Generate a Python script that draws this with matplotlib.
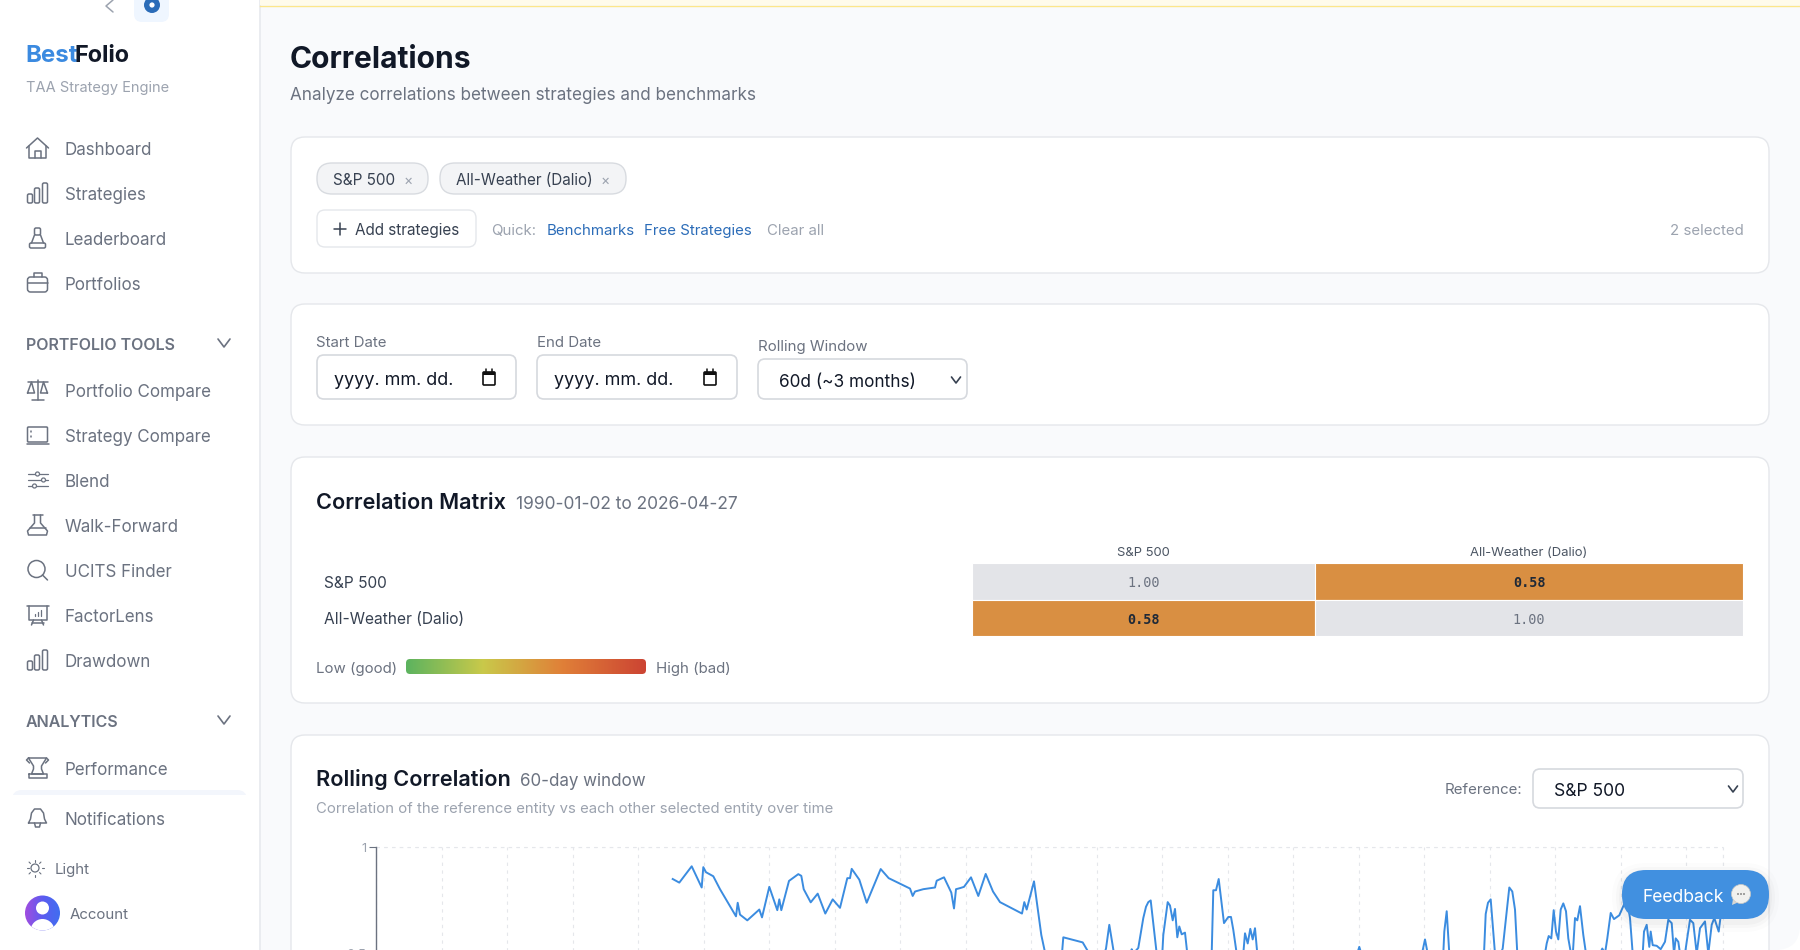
import numpy as np
import matplotlib
matplotlib.use("Agg")
import matplotlib.pyplot as plt
from matplotlib.patches import FancyBboxPatch, Rectangle, Circle, Polygon, PathPatch
from matplotlib.path import Path
from matplotlib.colors import LinearSegmentedColormap

plt.rcParams['font.family'] = ['Inter', 'DejaVu Sans']

# sidebar
nav_top = ["Dashboard", "Strategies", "Leaderboard", "Portfolios"]
nav_tools = ["Portfolio Compare", "Strategy Compare", "Blend", "Walk-Forward", "UCITS Finder", "FactorLens", "Drawdown"]

# correlation matrix
matrix_names = ["S&P 500", "All-Weather (Dalio)"]
matrix_values = [[1.00, 0.58], [0.58, 1.00]]

# rolling correlation, x is sample index along the chart
rolling_x = [296.7, 303.3, 315.7, 325.7, 327.3, 330, 337.3, 344, 360, 361.7, 364, 371.3, 383.3, 386, 393.3, 401.3,
             403.3, 405.3, 413, 422.3, 425.3, 427.7, 434.7, 441.7, 449.3, 456.7, 464, 471.3, 474, 475.7, 483.3, 490.7,
             504.7, 512.7, 534, 536.7, 539, 547.3, 559, 560.7, 568, 575.3, 578, 580, 584,
             588, 595, 602.3, 609.7, 617, 624, 646, 648.3, 650.7, 658, 665.3, 670, 675.7, 682.3, 685.7, 687.3, 706.7,
             713.3, 720.7, 727.3, 730, 733.3, 738, 745.7, 754, 755.7, 757.3, 762.3, 767.3, 770, 772.3, 774.7, 780.7,
             783.3, 786.3, 787.3, 791.7, 794, 796.7, 799, 801.3, 803.3, 805.7, 809, 811.3, 822.3, 835.7, 837.3, 840,
             842.7, 848, 852.3, 855, 857.3, 860.7, 864, 867.3, 869, 871.7, 874.3, 876.7, 879, 881.3,
             900, 930, 955, 975, 983.3, 985.3, 987.3, 989, 1010, 1040, 1046.7, 1049, 1051.7, 1060, 1067.3, 1068.3,
             1070.7, 1073.3, 1085, 1100, 1108, 1109.7, 1112, 1114.7, 1119, 1122, 1124.7, 1126.7, 1133.3, 1136.3, 1139,
             1141.3, 1155, 1169, 1170.7, 1172.7, 1175.3, 1177.7, 1180, 1182.3, 1184.7, 1187.3, 1190, 1192.3, 1195,
             1196.5, 1199, 1201.3, 1204, 1207.3, 1210, 1218, 1224, 1226.3, 1229, 1231.3, 1234.7, 1238, 1243.3, 1247.3,
             1250.7, 1254, 1256.7, 1264, 1266.7, 1268, 1270.7, 1273.3, 1274.7, 1276.7, 1280.7, 1284.7, 1289, 1292.3,
             1295.7, 1298, 1299.7, 1302.3, 1304, 1307.3, 1310.7, 1314, 1317.3, 1320.7, 1324, 1329, 1332.3, 1335.7,
             1338.3, 1342.7, 1345.7]
rolling_y = [.849, .832, .909, .809, .905, .881, .862, .801, .673, .737, .681, .654, .705, .668, .812, .702,
             .753, .702, .840, .872, .864, .801, .739, .780, .686, .753, .713, .853, .853, .897, .846, .737,
             .896, .853, .804, .769, .790, .801, .809, .841, .857, .785, .710, .801, .806,
             .812, .857, .769, .873, .790, .740, .686, .740, .705, .838, .585, .481, .36, .39, .481, .574, .550,
             .497, .425, .481, .521, .633, .497, .39, .489, .518, .497, .524, .665, .718, .740, .748, .497,
             .39, .497, .585, .740, .724, .654, .708, .574, .625, .588, .596, .497, .36, .497, .796, .796,
             .849, .641, .670, .670, .609, .497, .39, .497, .593, .545, .614, .564, .617, .497,
             .30, .38, .25, .40, .529, .497, .510, .497, .30, .40, .513, .564, .497, .38, .497, .601,
             .697, .497, .34, .42, .497, .684, .737, .753, .497, .40, .497, .521, .809, .790, .705,
             .497, .36, .497, .545, .580, .569, .702, .601, .564, .705, .734, .697, .569, .497,
             .47, .665, .654, .721, .585, .497, .40, .497, .521, .497, .569, .689, .660, .678, .721,
             .761, .665, .497, .38, .497, .601, .633, .529, .601, .537, .534, .518, .553, .657,
             .641, .497, .569, .553, .497, .44, .553, .657, .641, .497, .617, .649, .497, .633,
             .665, .601, .713]
rolling_ticks = [0, 65.5, 131, 196.5, 262, 327.5, 393, 458.5, 524, 589.5, 655, 720.5, 786, 851.5, 917, 982.5, 1048,
                 1113.5, 1179, 1244.5, 1310, 1347]

INK = "#111827"
GRAY = "#6b7280"
LIGHT = "#9ca3af"
BODY = "#374151"
BLUE = "#2b6cb8"
LINE = "#e5e7eb"


def fs(px):
    return px * 0.72


fig = plt.figure(figsize=(18, 9.5), dpi=100, facecolor="#f9fafc")
ax = fig.add_axes([0, 0, 1, 1], zorder=0)
ax.set_xlim(0, 1800)
ax.set_ylim(950, 0)
ax.axis("off")

top = fig.add_axes([0, 0, 1, 1], zorder=5)
top.set_xlim(0, 1800)
top.set_ylim(950, 0)
top.axis("off")
top.patch.set_alpha(0)


def txt(x, y, s, px=16, color=GRAY, ha="left", weight="normal", a=None):
    a = a or ax
    # y is the middle of the capitals, so all labels in a row share a baseline
    return a.text(x, y + px * 0.36 + 0.8, s, fontsize=fs(px), color=color, ha=ha, va="baseline", fontweight=weight)


def box(x0, y0, x1, y1, r, fc="white", ec=LINE, lw=1.0, a=None, z=1):
    a = a or ax
    p = FancyBboxPatch((x0 + r, y0 + r), x1 - x0 - 2 * r, y1 - y0 - 2 * r, boxstyle=f"round,pad={r},rounding_size={r}",
                       fc=fc, ec=ec, lw=lw, zorder=z)
    a.add_patch(p)
    return p


def stroke(xs, ys, c=GRAY, lw=1.1, a=None, z=3):
    (a or ax).plot(xs, ys, color=c, lw=lw, solid_capstyle="round", solid_joinstyle="round", zorder=z)


def rbox_line(x0, y0, x1, y1, r=1.5, c=GRAY, lw=1.1):
    box(x0, y0, x1, y1, r, fc="none", ec=c, lw=lw, z=3)


def chevron(cx, cy, w=6, h=4, c=GRAY, lw=1.2):
    stroke([cx - w, cx, cx + w], [cy - h, cy + h, cy - h], c=c, lw=lw)


# icons, drawn around a centre point
def icon_home(cx, cy):
    stroke([cx - 11, cx, cx + 11], [cy, cy - 10, cy])
    stroke([cx - 8.5, cx - 8.5, cx + 8.5, cx + 8.5], [cy - 2, cy + 10, cy + 10, cy - 2])
    stroke([cx - 3, cx - 3, cx + 3, cx + 3], [cy + 10, cy + 3, cy + 3, cy + 10])


def icon_bars(cx, cy):
    rbox_line(cx - 10, cy + 1, cx - 5, cy + 10)
    rbox_line(cx - 3, cy - 5, cx + 2, cy + 10)
    rbox_line(cx + 5, cy - 10, cx + 10, cy + 10)


def icon_bench(cx, cy):
    rbox_line(cx - 3, cy - 10, cx + 3, cy - 3)
    stroke([cx - 3, cx - 6, cx - 6], [cy - 3, cy + 5, cy + 5])
    stroke([cx + 3, cx + 6], [cy - 3, cy + 5])
    rbox_line(cx - 8, cy + 5, cx + 8, cy + 10)


def icon_case(cx, cy):
    rbox_line(cx - 10, cy - 6, cx + 10, cy + 9, r=3)
    stroke([cx - 10, cx + 10], [cy, cy])
    stroke([cx - 4, cx - 4, cx + 4, cx + 4], [cy - 6, cy - 10, cy - 10, cy - 6])


def icon_scale(cx, cy):
    stroke([cx, cx], [cy - 10, cy + 10])
    stroke([cx - 6, cx + 6], [cy + 10, cy + 10])
    stroke([cx - 10, cx + 10], [cy - 8, cy - 8])
    stroke([cx - 10, cx - 6, cx - 3, cx - 10], [cy + 3, cy - 8, cy + 3, cy + 3])
    stroke([cx + 10, cx + 6, cx + 3, cx + 10], [cy + 3, cy - 8, cy + 3, cy + 3])


def icon_screen(cx, cy):
    rbox_line(cx - 10, cy - 8, cx + 10, cy + 7, r=1)
    stroke([cx - 11, cx + 11], [cy + 9, cy + 9])
    stroke([cx - 7, cx - 7], [cy - 4, cy - 3])
    stroke([cx - 7, cx - 7], [cy + 1, cy + 2])


def icon_sliders(cx, cy):
    for dy, dx in [(-6, 0), (0, 6), (6, -3)]:
        stroke([cx - 10, cx + 10], [cy + dy, cy + dy], lw=0.9)
        ax.add_patch(Circle((cx + dx, cy + dy), 2, fc="white", ec=GRAY, lw=0.9, zorder=4))


def icon_flask(cx, cy):
    stroke([cx - 3, cx - 3, cx - 10, cx - 9, cx + 9, cx + 10, cx + 3, cx + 3], [cy - 10, cy - 2, cy + 6, cy + 10, cy + 10, cy + 6, cy - 2, cy - 10])
    stroke([cx - 5, cx + 5], [cy - 10, cy - 10])
    stroke([cx - 8, cx + 8], [cy + 3, cy + 3])


def icon_search(cx, cy):
    ax.add_patch(Circle((cx - 1, cy - 1), 8.5, fc="none", ec=GRAY, lw=1.1, zorder=3))
    stroke([cx + 5, cx + 10], [cy + 5, cy + 10])


def icon_board(cx, cy):
    stroke([cx - 11, cx + 11], [cy - 9, cy - 9])
    stroke([cx - 9, cx - 9, cx + 9, cx + 9], [cy - 9, cy + 5, cy + 5, cy - 9])
    stroke([cx - 4, cx - 6], [cy + 5, cy + 10])
    stroke([cx + 4, cx + 6], [cy + 5, cy + 10])
    stroke([cx - 6, cx + 6], [cy + 8, cy + 8])
    for dx, h in [(-3, 2), (0, 4), (3, 6)]:
        stroke([cx + dx, cx + dx], [cy + 1, cy + 1 - h], lw=0.9)


def icon_trophy(cx, cy):
    stroke([cx - 9, cx + 9, cx + 4, cx + 4, cx + 6, cx - 6, cx - 4, cx - 4, cx - 9], [cy - 10, cy - 10, cy - 2, cy + 1, cy + 6, cy + 6, cy + 1, cy - 2, cy - 10])
    stroke([cx - 9, cx + 9, cx + 9, cx - 9, cx - 9], [cy + 6, cy + 6, cy + 10, cy + 10, cy + 6])
    stroke([cx - 9, cx - 11, cx - 8], [cy - 10, cy - 8, cy - 5])
    stroke([cx + 9, cx + 11, cx + 8], [cy - 10, cy - 8, cy - 5])


def icon_bell(cx, cy):
    stroke([cx - 9, cx - 7, cx - 6, cx - 3, cx + 3, cx + 6, cx + 7, cx + 9, cx - 9], [cy + 5, cy + 1, cy - 5, cy - 9, cy - 9, cy - 5, cy + 1, cy + 5, cy + 5])
    stroke([cx - 3, cx - 2, cx + 2, cx + 3], [cy + 5, cy + 9, cy + 9, cy + 5])


# sidebar
ax.add_patch(Rectangle((0, 0), 259, 950, fc="white", ec="none", zorder=0.5))
ax.plot([259.5, 259.5], [0, 950], color="#e8eaee", lw=1.2, zorder=1)
stroke([113, 106, 113], [0, 6, 12], c=LIGHT, lw=1.1)
box(134, -10, 169, 22, 8, fc="#eff6ff", ec="none")
ax.add_patch(Circle((152, 5), 8, fc=BLUE, ec="none", zorder=3))
ax.add_patch(Circle((152, 5), 2.6, fc="white", ec="none", zorder=4))

txt(25, 52.5, "Best", px=24, color="#3b8ae0", weight="bold")
txt(75, 52.5, "Folio", px=23.5, color=INK, weight="bold")
txt(26, 85.5, "TAA Strategy Engine", px=14.6, color=LIGHT)

top_y = [148, 193, 238, 283]
for y, name, ic in zip(top_y, nav_top, [icon_home, icon_bars, icon_bench, icon_case]):
    ic(37.5, y)
    txt(65, y, name, px=17)

txt(25.5, 343, "PORTFOLIO TOOLS", px=16, color=GRAY, weight="semibold")
chevron(224, 343)
tool_y = [390, 435, 480, 525, 570, 615, 660]
for y, name, ic in zip(tool_y, nav_tools, [icon_scale, icon_screen, icon_sliders, icon_flask, icon_search, icon_board, icon_bars]):
    ic(37.5, y)
    txt(65, y, name, px=17)

txt(25.5, 720.5, "ANALYTICS", px=16, color=GRAY, weight="semibold")
chevron(224, 720)
icon_trophy(37.5, 768)
txt(65, 768, "Performance", px=17)
box(12, 790, 247, 815, 10, fc="#f3f6fc", ec="none")
ax.add_patch(Rectangle((0, 795), 259, 60, fc="white", ec="none", zorder=1.5))
icon_bell(37.5, 818)
txt(65, 818, "Notifications", px=17)

# sun
ax.add_patch(Circle((35, 868), 4, fc="none", ec=GRAY, lw=0.9, zorder=3))
for dx, dy in [(1, 0), (0, 1), (-1, 0), (0, -1), (.7, .7), (-.7, .7), (.7, -.7), (-.7, -.7)]:
    stroke([35 + 6.5 * dx, 35 + 8.5 * dx], [868 + 6.5 * dy, 868 + 8.5 * dy], lw=0.8)
txt(55, 868, "Light", px=15, color=GRAY)

# avatar
grad = LinearSegmentedColormap.from_list("av", ["#a04de0", "#5b5cf0", "#3f6ff0"])
im = ax.imshow(np.linspace(0, 1, 64)[None, :], extent=(24.5, 60.5, 931, 895), cmap=grad, zorder=3, aspect="auto")
clip = Circle((42.5, 913), 17.5, transform=ax.transData)
im.set_clip_path(clip)
ax.set_xlim(0, 1800)
ax.set_ylim(950, 0)
ax.add_patch(Circle((42.5, 908), 6.5, fc="white", ec="none", zorder=4))
body = ax.add_patch(Circle((42.5, 931), 12, fc="white", ec="none", zorder=4))
body.set_clip_path(clip)
txt(70, 913, "Account", px=15, color=GRAY)

# top strip and heading
ax.add_patch(Rectangle((260, 0), 1540, 5, fc="#fffbeb", ec="none", zorder=1))
ax.plot([260, 1800], [5.5, 5.5], color="#fde68a", lw=1.0, zorder=1)
txt(290, 56.5, "Correlations", px=30, color=INK, weight="bold")
txt(290, 93.5, "Analyze correlations between strategies and benchmarks", px=17.1, color=GRAY)

# selection card
box(291, 137, 1769, 273, 14)
box(317, 163, 428, 194, 15, fc="#f3f4f6", ec="#d8dbe0")
txt(333, 178.5, "S&P 500", px=15.3, color=BODY)
txt(408, 178.5, "×", px=14, color=LIGHT, ha="center")
box(440, 163, 626, 194, 15, fc="#f3f4f6", ec="#d8dbe0")
txt(456, 178.5, "All-Weather (Dalio)", px=15.2, color=BODY)
txt(605, 178.5, "×", px=14, color=LIGHT, ha="center")
box(317, 210, 476, 247, 8)
stroke([334, 346], [229, 229], c=BODY, lw=1.1)
stroke([340, 340], [223, 235], c=BODY, lw=1.1)
txt(355, 228.5, "Add strategies", px=15.3, color=BODY)
txt(491, 228.5, "Quick:", px=15, color=LIGHT)
txt(547, 228.5, "Benchmarks", px=15, color=BLUE)
txt(644, 228.5, "Free Strategies", px=15, color=BLUE)
txt(767, 228.5, "Clear all", px=15, color=LIGHT)
txt(1744, 228.5, "2 selected", px=15, color=LIGHT, ha="right")

# date card
box(291, 304, 1769, 425, 14)
txt(316, 340.5, "Start Date", px=15, color=GRAY)
txt(537, 340.5, "End Date", px=15, color=GRAY)
txt(758, 344.5, "Rolling Window", px=15, color=GRAY)
for x0, x1 in [(317, 516), (537, 737)]:
    box(x0, 355, x1, 399, 7, ec="#d6d9de", lw=1.2)
    txt(x0 + 17, 377.5, "yyyy. mm. dd.", px=18, color=INK)
    cx = x1 - 27
    box(cx - 6, 372, cx + 6, 385, 1, fc="white", ec="#111", lw=1.2, z=3)
    ax.add_patch(Rectangle((cx - 6, 372), 12, 3, fc="#111", ec="none", zorder=4))
    stroke([cx - 3, cx - 3], [369, 372], c="#111")
    stroke([cx + 3, cx + 3], [369, 372], c="#111")
box(758, 359, 967, 399, 7, ec="#d6d9de", lw=1.2)
txt(779, 380, "60d (~3 months)", px=17.2, color=INK)
chevron(956, 380, w=4.5, h=3, c=BODY, lw=1.2)

# correlation matrix card
box(291, 457, 1769, 703, 14)
txt(316, 500, "Correlation Matrix", px=21.7, color=INK, weight="semibold")
txt(516, 502, "1990-01-02 to 2026-04-27", px=17.4, color=GRAY)

col_edges = [972, 1315, 1743]
row_edges = [563, 600, 636]
for i, name in enumerate(matrix_names):
    txt((col_edges[i] + col_edges[i + 1]) / 2, 550.5, name, px=13, color="#4b5563", ha="center")
    txt(324, (row_edges[i] + row_edges[i + 1]) / 2, name, px=15.5, color=BODY)
    for j in range(len(matrix_names)):
        v = matrix_values[i][j]
        fc = "#e3e4e8" if v == 1 else "#d98f42"
        ax.add_patch(Rectangle((col_edges[j], row_edges[i]), col_edges[j + 1] - col_edges[j], row_edges[i + 1] - row_edges[i],
                               fc=fc, ec="white", lw=0.8, zorder=2))
        ax.text((col_edges[j] + col_edges[j + 1]) / 2, (row_edges[i] + row_edges[i + 1]) / 2, f"{v:.2f}",
                fontsize=fs(13.5), family="DejaVu Sans Mono", color=GRAY if v == 1 else "#1f2937",
                fontweight="normal" if v == 1 else "bold", ha="center", va="center_baseline", zorder=3)

txt(316, 667, "Low (good)", px=15, color=GRAY)
scale = LinearSegmentedColormap.from_list("lh", [(0, "#5cb35f"), (.32, "#c9c94a"), (.65, "#e08038"), (1, "#cc4433")])
bar_im = ax.imshow(np.linspace(0, 1, 256)[None, :], extent=(406, 646, 674, 659), cmap=scale, aspect="auto", zorder=3)
bar_clip = FancyBboxPatch((410, 663), 232, 7, boxstyle="round,pad=4,rounding_size=4", transform=ax.transData)
bar_im.set_clip_path(bar_clip)
ax.set_xlim(0, 1800)
ax.set_ylim(950, 0)
txt(656, 667, "High (bad)", px=15, color=GRAY)

# rolling correlation card
box(291, 735, 1769, 1000, 14)
txt(316, 777, "Rolling Correlation", px=21.7, color=INK, weight="semibold")
txt(520, 779, "60-day window", px=17, color=GRAY)
txt(316, 807, "Correlation of the reference entity vs each other selected entity over time", px=14.9, color=LIGHT)
txt(1522, 788, "Reference:", px=15, color=GRAY, ha="right")
box(1533, 769, 1743, 808, 7, ec="#d6d9de", lw=1.2)
txt(1554, 789, "S&P 500", px=17.5, color=INK)
chevron(1733, 789, w=4.5, h=3, c=BODY, lw=1.2)

# chart, its bottom edge runs just past the screenshot
chart = fig.add_axes([376 / 1800, -3 / 950, (1723 - 376) / 1800, 106 / 950], zorder=1)
chart.patch.set_alpha(0)
chart.plot(rolling_x, rolling_y, color="#3b8ce0", lw=1.4, solid_joinstyle="round", zorder=3)
chart.set_xlim(0, 1347)
chart.set_ylim(0.5, 1)
chart.set_xticks(rolling_ticks)
chart.set_yticks([0.5, 1])
chart.set_yticklabels(["0.5", "1"])
chart.grid(True, color="#e5e7eb", lw=0.8, linestyle=(0, (3, 4)))
chart.tick_params(axis="x", length=0, labelbottom=False)
chart.tick_params(axis="y", length=5, width=0.8, color=GRAY, labelcolor=LIGHT, labelsize=fs(13), pad=2)
chart.spines["left"].set_color(GRAY)
chart.spines["left"].set_linewidth(1.0)
for s in ["top", "right", "bottom"]:
    chart.spines[s].set_visible(False)
chart.plot([0, 1347], [1, 1], color="#e5e7eb", lw=0.8, linestyle=(0, (3, 4)), zorder=1, clip_on=False)
chart.plot([1347, 1347], [0.5, 1], color="#e5e7eb", lw=0.8, linestyle=(0, (3, 4)), zorder=1, clip_on=False)

# feedback button
for g, al in [(10, .012), (6, .018), (3, .025)]:
    box(1622 - g, 870 - g + 3, 1769 + g, 919 + g + 3, 24 + g, fc="#000000", ec="none", a=top, z=1).set_alpha(al)
box(1622, 870, 1769, 919, 24, fc="#4190e0", ec="none", a=top, z=2)
txt(1642, 895, "Feedback", px=17.5, color="white", a=top)
top.add_patch(Circle((1741, 894), 9.5, fc="#f1f1ee", ec="#c8c8c4", lw=0.5, zorder=3))
top.add_patch(Polygon([[1733, 899], [1732, 905], [1739, 902]], fc="#d8d8d4", ec="none", zorder=2.5))
for dx in (-3, 0, 3):
    top.add_patch(Circle((1741 + dx, 894), 0.8, fc="#555", ec="none", zorder=4))

# window corner
corner = Path([(1800, 925), (1800, 950), (1775, 950), (1800, 950), (1800, 925)],
              [Path.MOVETO, Path.CURVE3, Path.CURVE3, Path.LINETO, Path.CLOSEPOLY])
top.add_patch(PathPatch(corner, fc="white", ec="none", zorder=6))

fig.savefig("out.png", dpi=100, facecolor=fig.get_facecolor())
